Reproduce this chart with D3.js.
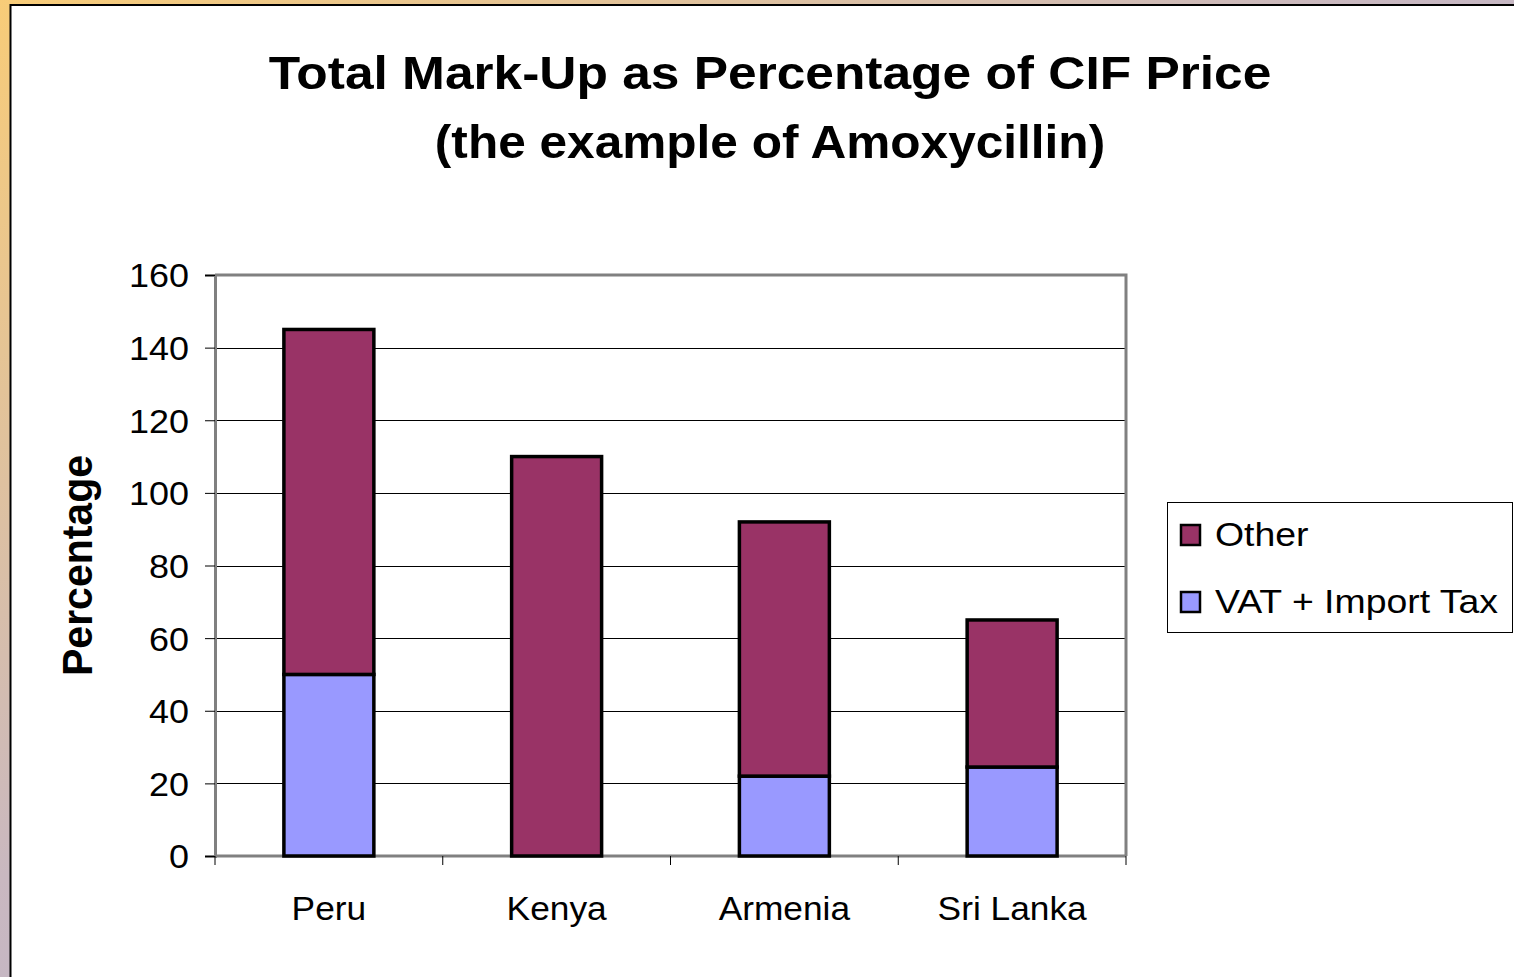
<!DOCTYPE html>
<html>
<head>
<meta charset="utf-8">
<script src="https://cdnjs.cloudflare.com/ajax/libs/d3/7.8.5/d3.min.js"></script>
<style>
  html, body { margin: 0; padding: 0; overflow: hidden; }
  svg { display: block; }
  text { font-family: "Liberation Sans", Arial, sans-serif; fill: #000; }
</style>
</head>
<body>
<script>
// ---- data ----
const categories = ["Peru", "Kenya", "Armenia", "Sri Lanka"];
const vatImportTax = [50, 0, 22, 24.5];
const other = [95, 110, 70, 40.5];
const seriesNames = ["VAT + Import Tax", "Other"];
const legendOrder = ["Other", "VAT + Import Tax"];
const yTicks = [0, 20, 40, 60, 80, 100, 120, 140, 160];
const titleLines = ["Total Mark-Up as Percentage of CIF Price", "(the example of Amoxycillin)"];
const yAxisTitle = "Percentage";

// ---- layout ----
const W = 1514, H = 977;
const SX = 1.07; // horizontal stretch of text seen in the reference
const plot = { left: 215, right: 1126, top: 275, bottom: 856 };
const colors = { "Other": "#993366", "VAT + Import Tax": "#9999ff" };

const svg = d3.select("body").append("svg").attr("width", W).attr("height", H);

// background gradient frame
const defs = svg.append("defs");
const grad = defs.append("linearGradient").attr("id", "bg")
  .attr("x1", 0).attr("y1", 0).attr("x2", 1).attr("y2", 1);
grad.append("stop").attr("offset", "0%").attr("stop-color", "#f8cc78");
grad.append("stop").attr("offset", "45%").attr("stop-color", "#c9b8c0");
grad.append("stop").attr("offset", "100%").attr("stop-color", "#a9acdc");
svg.append("rect").attr("width", W).attr("height", H).attr("fill", "url(#bg)");
svg.append("rect").attr("x", 10).attr("y", 5).attr("width", W).attr("height", H)
  .attr("fill", "#fff");
svg.append("path").attr("d", `M10.5,${H} L10.5,5 L${W},5`)
  .attr("fill", "none").attr("stroke", "#000").attr("stroke-width", 2);

// scales
const x = d3.scaleBand().domain(categories).range([plot.left, plot.right]).padding(0);
const y = d3.scaleLinear().domain([0, 160]).range([plot.bottom, plot.top]);

// gridlines
svg.append("g").selectAll("line").data(yTicks.filter(d => d > 0 && d < 160)).join("line")
  .attr("x1", plot.left).attr("x2", plot.right)
  .attr("y1", d => Math.round(y(d)) + 0.5).attr("y2", d => Math.round(y(d)) + 0.5)
  .attr("stroke", "#000").attr("stroke-width", 1);

// plot border (top/right)
svg.append("path")
  .attr("d", `M${plot.left},${plot.top} L${plot.right},${plot.top} L${plot.right},${plot.bottom}`)
  .attr("fill", "none").attr("stroke", "#808080").attr("stroke-width", 3);

// y axis
const yAxis = d3.axisLeft(y).tickValues(yTicks).tickSize(10).tickPadding(16);
const gy = svg.append("g").attr("transform", `translate(${plot.left},0)`).call(yAxis);
gy.select(".domain").attr("stroke", "#808080").attr("stroke-width", 3);
gy.selectAll(".tick line").attr("stroke", "#000").attr("stroke-width", 1);
gy.selectAll(".tick text")
  .attr("font-size", 33).attr("font-family", "'Liberation Sans', Arial, sans-serif")
  .attr("fill", "#000").attr("dy", "0.36em")
  .each(function() {
    const t = d3.select(this);
    const xx = +t.attr("x");
    t.attr("x", null).attr("transform", `translate(${xx},0) scale(1.09,1)`);
  });

// x axis (ticks at category boundaries)
const boundaries = categories.map(c => x(c)).concat([plot.right]);
svg.append("line").attr("x1", plot.left).attr("x2", plot.right)
  .attr("y1", plot.bottom).attr("y2", plot.bottom)
  .attr("stroke", "#808080").attr("stroke-width", 3);
svg.append("g").selectAll("line").data(boundaries).join("line")
  .attr("x1", d => d).attr("x2", d => d)
  .attr("y1", plot.bottom).attr("y2", plot.bottom + 9)
  .attr("stroke", "#000").attr("stroke-width", 1);
svg.append("g").selectAll("text").data(categories).join("text")
  .attr("transform", d => `translate(${x(d) + x.bandwidth() / 2},920) scale(${SX},1)`)
  .attr("text-anchor", "middle").attr("font-size", 33)
  .text(d => d);

// stacked bars
const rows = categories.map((c, i) => ({ cat: c, "VAT + Import Tax": vatImportTax[i], "Other": other[i] }));
const stack = d3.stack().keys(seriesNames)(rows);
const barW = x.bandwidth() * 0.395;
svg.append("g").selectAll("g").data(stack).join("g")
  .attr("fill", d => colors[d.key])
  .selectAll("rect").data(d => d.filter(s => s[1] - s[0] > 0)).join("rect")
  .attr("x", d => x(d.data.cat) + (x.bandwidth() - barW) / 2)
  .attr("width", barW)
  .attr("y", d => y(d[1]))
  .attr("height", d => y(d[0]) - y(d[1]))
  .attr("stroke", "#000").attr("stroke-width", 3.5);

// y axis title
svg.append("text")
  .attr("transform", `translate(92,${(plot.top + plot.bottom) / 2}) rotate(-90) scale(1,1.05)`)
  .attr("text-anchor", "middle").attr("font-size", 41).attr("font-weight", "bold")
  .text(yAxisTitle);

// title
svg.append("g").selectAll("text").data(titleLines).join("text")
  .attr("transform", (d, i) => `translate(770,${89 + i * 69}) scale(${i === 0 ? 1.095 : 1.055},1)`)
  .attr("text-anchor", "middle").attr("font-size", 47).attr("font-weight", "bold")
  .text(d => d);

// legend
const lg = svg.append("g");
lg.append("rect").attr("x", 1167.5).attr("y", 502.5).attr("width", 345).attr("height", 130)
  .attr("fill", "#fff").attr("stroke", "#000").attr("stroke-width", 1);
const items = lg.selectAll("g.item").data(legendOrder).join("g").attr("class", "item")
  .attr("transform", (d, i) => `translate(0,${i * 67})`);
items.append("rect").attr("x", 1181).attr("y", 525).attr("width", 19).attr("height", 20)
  .attr("fill", d => colors[d]).attr("stroke", "#000").attr("stroke-width", 2.5);
items.append("text")
  .attr("transform", `translate(1215,546) scale(1.1,1)`)
  .attr("font-size", 34).text(d => d);
</script>
</body>
</html>
